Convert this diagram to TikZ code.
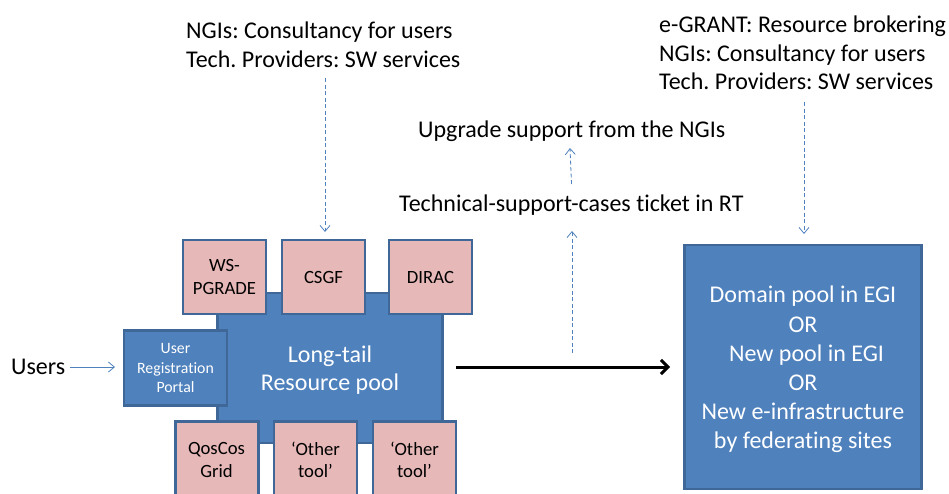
\documentclass[tikz,border=0pt]{standalone}
\usepackage{fontspec}
\setmainfont[Ligatures=NoCommon]{Carlito}
\usetikzlibrary{arrows.meta}
\definecolor{bfill}{HTML}{4F81BD}
\definecolor{bline}{HTML}{3F6797}
\definecolor{pfill}{HTML}{E6B8B7}
\tikzset{
  x=1pt,y=-1pt,
  bluebox/.style={draw=bline,fill=bfill,line width=2.4pt,outer sep=0pt,text=white,align=center,inner sep=0pt},
  pinkbox/.style={draw=bline,fill=pfill,line width=2.4pt,outer sep=0pt,text=black,align=center,inner sep=0pt,font=\fontsize{18.7}{22.5}\selectfont},
  lab/.style={text=black,align=left,inner sep=0pt,font=\fontsize{24}{28.4}\selectfont},
  thin arrow/.style={draw=bfill,line width=0.8pt,-{Straight Barb[length=6pt,width=10pt,line width=0.8pt]}},
  dash arrow/.style={thin arrow,dash pattern=on 4pt off 2.5pt},
}
\newcommand{\boxat}[6]{\node[#1,minimum width=#4pt,minimum height=#5pt,anchor=north west] (#2) at (#3) {#6};}
\begin{document}
\frenchspacing
\begin{tikzpicture}
\useasboundingbox (0,0) rectangle (949,493);
\begin{scope}
\clip (0,0) rectangle (949,493);
\boxat{bluebox,font=\fontsize{24}{28.5}\selectfont}{pool}{217.5,293}{225}{150}{\rule{0pt}{21pt}Long-tail\\Resource pool}
\boxat{pinkbox}{ws}{183,240}{83}{74}{WS-\\PGRADE}
\boxat{pinkbox}{csgf}{282,240}{83}{74}{CSGF}
\boxat{pinkbox}{dirac}{389,240}{83}{74}{DIRAC}
\boxat{bluebox,font=\fontsize{15.8}{19.5}\selectfont}{portal}{124,330.5}{103}{75}{User\\Registration\\Portal}
\node[pinkbox,minimum width=83pt,minimum height=76pt,anchor=north west] (qos) at (175.5,421.5) {};
\node[pinkbox,minimum width=83pt,minimum height=76pt,anchor=north west] (oa) at (274,421.5) {};
\node[pinkbox,minimum width=83pt,minimum height=76pt,anchor=north west] (ob) at (373,421.5) {};
\end{scope}
\node[pinkbox,draw=none,fill=none] (qost) at (216.5,460) {QosCos\\Grid};
\node[pinkbox,draw=none,fill=none] (oat) at (315.5,460) {‘Other\\tool’};
\node[pinkbox,draw=none,fill=none] (obt) at (414.5,460) {‘Other\\tool’};
\boxat{bluebox,font=\fontsize{24}{29.2}\selectfont}{dom}{684.5,245}{237}{244}{\rule{0pt}{22pt}Domain pool in EGI\\OR\\\hspace{7pt}New pool in EGI\\OR\\New e-infrastructure\\by federating sites}
\node[lab,anchor=north west] (top1) at (186,22) {NGIs: Consultancy for users\\Tech. Providers: SW services};
\node[lab,anchor=north west] (top2) at (659,16) {e-GRANT: Resource brokering\\NGIs: Consultancy for users\\Tech. Providers: SW services};
\node[lab,anchor=west] (upg) at (418,131.5) {Upgrade support from the NGIs};
\node[lab,anchor=west] (tech) at (399,205.5) {Technical-support-cases ticket in RT};
\node[lab,anchor=west] (users) at (11,367) {Users};
\coordinate (t1s) at (325,78);
\coordinate (t1e) at (325,232);
\coordinate (t2s) at (804,102);
\coordinate (t2e) at (804,234);
\coordinate (a1s) at (571.5,184);
\coordinate (a1e) at (570,148);
\coordinate (a2s) at (572,353);
\coordinate (a2e) at (572,231);
\coordinate (m1) at (456,367);
\coordinate (m2) at (670,367);
\coordinate (u1) at (70,367);
\coordinate (u2) at (115,367);
\draw[dash arrow] (t1s) -- (t1e);
\draw[dash arrow] (t2s) -- (t2e);
\draw[dash arrow] (a1s) -- (a1e);
\draw[dash arrow] (a2s) -- (a2e);
\draw[thin arrow] (u1) -- (u2);
\draw[black,line width=3pt,-{Straight Barb[length=7pt,width=14pt,line width=3pt]}] (m1) -- (m2);
\end{tikzpicture}
\end{document}
